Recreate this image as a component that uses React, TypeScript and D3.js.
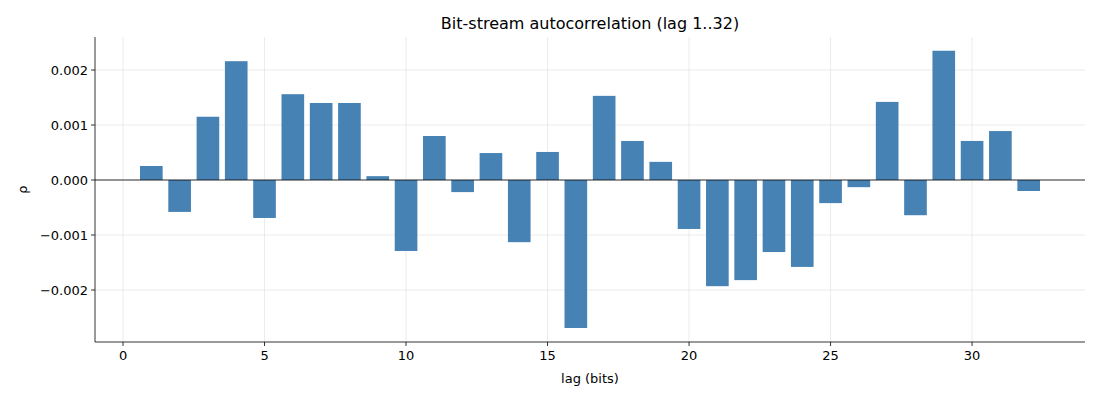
import React from "react";
import * as d3 from "d3";

const lags = d3.range(1, 33);
const rho = [
  0.000255, -0.00058, 0.00115, 0.00216, -0.00069, 0.00156, 0.0014, 0.0014,
  0.00007, -0.00129, 0.0008, -0.00022, 0.00049, -0.00113, 0.00051, -0.00269,
  0.00153, 0.00071, 0.00033, -0.00089, -0.00193, -0.00182, -0.00131, -0.00158,
  -0.00042, -0.00013, 0.00142, -0.00064, 0.00235, 0.00071, 0.00089, -0.0002,
];
const xTicks = [0, 5, 10, 15, 20, 25, 30];
const yTicks = [-0.002, -0.001, 0, 0.001, 0.002];

export default function App() {
  const W = 1100, H = 400;
  const m = { left: 95, right: 15, top: 37, bottom: 58 };
  const x = d3.scaleLinear().domain([-0.99, 33.99]).range([m.left, W - m.right]);
  const y = d3.scaleLinear().domain([-0.002945, 0.0026]).range([H - m.bottom, m.top]);
  const font = "DejaVu Sans, sans-serif";
  const bw = x(0.8) - x(0);

  return (
    <svg width={W} height={H} style={{ position: "absolute", left: 0, top: 0 }} fontFamily={font}>
      <rect width={W} height={H} fill="white" />
      {xTicks.map((t) => (
        <line key={"gx" + t} x1={x(t)} x2={x(t)} y1={m.top} y2={H - m.bottom} stroke="#e6e6e6" strokeWidth={0.8} />
      ))}
      {yTicks.map((t) => (
        <line key={"gy" + t} x1={m.left} x2={W - m.right} y1={y(t)} y2={y(t)} stroke="#e6e6e6" strokeWidth={0.8} />
      ))}
      {lags.map((l, i) => (
        <rect key={l} x={x(l) - bw / 2} width={bw} y={Math.min(y(rho[i]), y(0))}
          height={Math.abs(y(rho[i]) - y(0))} fill="#4682b4" />
      ))}
      <line x1={m.left} x2={W - m.right} y1={y(0)} y2={y(0)} stroke="black" strokeWidth={0.8} />
      <line x1={m.left} x2={m.left} y1={m.top} y2={H - m.bottom} stroke="black" strokeWidth={0.8} />
      <line x1={m.left} x2={W - m.right} y1={H - m.bottom} y2={H - m.bottom} stroke="black" strokeWidth={0.8} />
      {xTicks.map((t) => (
        <g key={"tx" + t}>
          <line x1={x(t)} x2={x(t)} y1={H - m.bottom} y2={H - m.bottom + 4} stroke="black" strokeWidth={0.8} />
          <text x={x(t)} y={H - m.bottom + 18} textAnchor="middle" fontSize={13}>{t}</text>
        </g>
      ))}
      {yTicks.map((t) => (
        <g key={"ty" + t}>
          <line x1={m.left - 4} x2={m.left} y1={y(t)} y2={y(t)} stroke="black" strokeWidth={0.8} />
          <text x={m.left - 7} y={y(t) + 4.5} textAnchor="end" fontSize={13}>
            {(t < 0 ? "\u2212" : "") + Math.abs(t).toFixed(3)}
          </text>
        </g>
      ))}
      <text x={(m.left + W - m.right) / 2} y={383} textAnchor="middle" fontSize={13}>lag (bits)</text>
      <text transform={`translate(27,${(m.top + H - m.bottom) / 2}) rotate(-90)`} textAnchor="middle" fontSize={13}>ρ</text>
      <text x={(m.left + W - m.right) / 2} y={29} textAnchor="middle" fontSize={16}>Bit-stream autocorrelation (lag 1..32)</text>
    </svg>
  );
}
